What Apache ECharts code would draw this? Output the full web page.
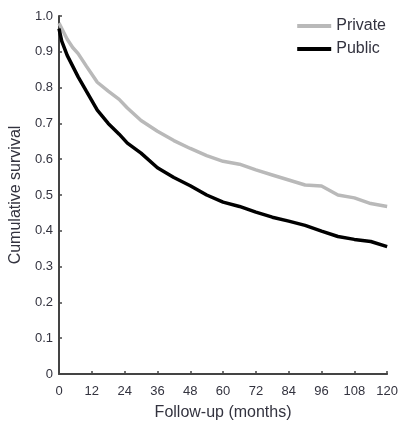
<!DOCTYPE html>
<html lang="en">
  <head>
    <meta charset="UTF-8" />
    <title>Cumulative survival</title>
    <script src="https://cdn.jsdelivr.net/npm/echarts@6/dist/echarts.min.js"></script>
    <style>
      html, body { margin: 0; padding: 0; background: #fff; }
      #chart { width: 401px; height: 426px; }
    </style>
  </head>
  <body>
    <div id="chart"></div>
    <script>
      // follow-up time (months) and survival
      const months = [0, 1, 3, 5, 7, 10, 14, 18, 22, 25, 30, 36, 42, 48, 54, 60, 66, 72, 78, 84, 90, 96, 102, 108, 114, 120];
      const privateSurv = [0.98, 0.965, 0.935, 0.912, 0.895, 0.86, 0.815, 0.79, 0.767, 0.743, 0.708, 0.678, 0.652, 0.63, 0.61, 0.594, 0.586, 0.57, 0.556, 0.542, 0.528, 0.525, 0.5, 0.492, 0.476, 0.468];
      const publicSurv = [0.965, 0.93, 0.89, 0.86, 0.83, 0.79, 0.737, 0.7, 0.67, 0.645, 0.617, 0.576, 0.549, 0.526, 0.5, 0.48, 0.468, 0.452, 0.438, 0.427, 0.415, 0.399, 0.384, 0.376, 0.37, 0.356];

      const txt = "#33333f";
      const font = "Liberation Sans";

      function pairs(ys) {
        return months.map((m, i) => [m, ys[i]]);
      }

      const chart = echarts.init(document.getElementById("chart"));
      chart.setOption({
        animation: false,
        textStyle: { fontFamily: font },
        grid: { left: 59, right: 12, top: 16, bottom: 52 },
        legend: {
          orient: "vertical",
          right: 10,
          top: 13,
          itemWidth: 34,
          itemHeight: 4,
          itemGap: 7,
          icon: "rect",
          textStyle: { color: txt, fontSize: 16, fontFamily: font },
          data: ["Private", "Public"]
        },
        xAxis: {
          type: "value",
          min: 0,
          max: 120,
          interval: 12,
          name: "Follow-up (months)",
          nameLocation: "middle",
          nameGap: 31,
          nameTextStyle: { color: txt, fontSize: 16 },
          axisLine: { lineStyle: { color: "#444", width: 2 } },
          axisTick: { inside: true, length: 3, lineStyle: { color: "#444", width: 1.5 } },
          axisLabel: { color: txt, fontSize: 13, margin: 11 },
          splitLine: { show: false }
        },
        yAxis: {
          type: "value",
          min: 0,
          max: 1,
          interval: 0.1,
          name: "Cumulative survival",
          nameLocation: "middle",
          nameGap: 31,
          nameTextStyle: { color: txt, fontSize: 16 },
          axisLine: { show: true, lineStyle: { color: "#444", width: 2 } },
          axisTick: { show: true, inside: true, length: 3, lineStyle: { color: "#444", width: 1.5 } },
          axisLabel: {
            color: txt,
            fontSize: 13,
            margin: 6,
            formatter: v => (v === 0 ? "0" : v.toFixed(1))
          },
          splitLine: { show: false }
        },
        series: [
          {
            name: "Private",
            type: "line",
            data: pairs(privateSurv),
            showSymbol: false,
            itemStyle: { color: "#b9b9b9" },
            lineStyle: { color: "#b9b9b9", width: 3.5 }
          },
          {
            name: "Public",
            type: "line",
            data: pairs(publicSurv),
            showSymbol: false,
            itemStyle: { color: "#000" },
            lineStyle: { color: "#000", width: 3.5 }
          }
        ]
      });
    </script>
  </body>
</html>
